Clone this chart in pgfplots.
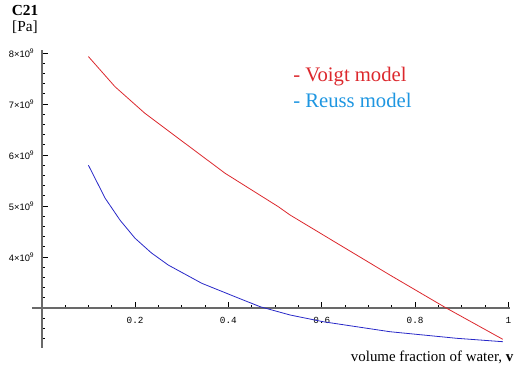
\documentclass[border=0pt]{standalone}
\usepackage{pgfplots}
\pgfplotsset{compat=1.18}
\usepackage{fontspec}
\setmainfont{Liberation Serif}
\newfontfamily\tickfont{Liberation Mono}
\newfontfamily\ytickfont{Liberation Sans}
\definecolor{voigt}{RGB}{220,40,45}
\definecolor{reuss}{RGB}{40,40,200}
\definecolor{reusstxt}{RGB}{30,150,225}
\definecolor{axgray}{RGB}{105,105,105}
% y values are plotted as (value/1e9 - 3), so the x axis crosses at 3x10^9
\begin{document}
\begin{tikzpicture}
\begin{axis}[
  x=350pt, y=38.25pt,
  axis lines=middle,
  axis line style={axgray, line width=1.2pt, -},
  xmin=-0.021, xmax=1.004,
  ymin=-0.784, ymax=5.06,
  xtick={0.2,0.4,0.6,0.8,1},
  xticklabels={0.2,0.4,0.6,0.8,1},
  minor xtick={0.05,0.1,0.15,0.25,0.3,0.35,0.45,0.5,0.55,0.65,0.7,0.75,0.85,0.9,0.95},
  ytick={1,2,3,4,5},
  yticklabels={4×10\textsuperscript{9},5×10\textsuperscript{9},6×10\textsuperscript{9},7×10\textsuperscript{9},8×10\textsuperscript{9}},
  minor ytick={-0.6,-0.4,-0.2,0.2,0.4,0.6,0.8,1.2,1.4,1.6,1.8,2.2,2.4,2.6,2.8,3.2,3.4,3.6,3.8,4.2,4.4,4.6,4.8},
  xtick align=inside, ytick align=inside,
  major tick length=4.5pt,
  minor tick length=2.5pt,
  tick style={black, line width=0.5pt},
  xticklabel style={font=\tickfont\fontsize{7}{8}\selectfont, anchor=north, yshift=-3.5pt},
  yticklabel style={font=\ytickfont\fontsize{7}{8}\selectfont, anchor=east, xshift=-2pt},
  clip=false,
]
\addplot[voigt, line width=0.6pt] coordinates {
(0.100,4.93) (0.157,4.339) (0.221,3.818) (0.307,3.229) (0.393,2.641) (0.507,1.986)
(0.532,1.824) (0.639,1.235) (0.746,0.647) (0.864,0.014) (0.988,-0.614)
};
\addplot[reuss, line width=0.6pt] coordinates {
(0.100,2.80) (0.136,2.151) (0.168,1.72) (0.200,1.367) (0.235,1.08) (0.271,0.843) (0.343,0.484)
(0.414,0.222) (0.468,0.025) (0.532,-0.137) (0.603,-0.269) (0.746,-0.465)
(0.889,-0.594) (0.988,-0.661)
};
\node[anchor=west, inner sep=0pt, text=voigt, font=\fontsize{15.5}{17}\selectfont] at (axis cs:0.5385,4.53) {- Voigt model};
\node[anchor=west, inner sep=0pt, text=reusstxt, font=\fontsize{15.5}{17}\selectfont] at (axis cs:0.5385,4.06) {- Reuss model};
\node[font=\bfseries\fontsize{11.5}{12}\selectfont] at (axis cs:-0.0358,5.84) {C21};
\node[font=\fontsize{11.5}{12}\selectfont] at (axis cs:-0.0358,5.51) {[Pa]};
\node[anchor=west, inner sep=0pt, font=\fontsize{11.2}{12}\selectfont] at (axis cs:0.662,-0.96) {volume fraction of water, \textbf{v}};
\coordinate (BL) at (axis cs:-0.0894,-1.157);
\coordinate (TR) at (axis cs:1.0163,6.039);
\end{axis}
\pgfresetboundingbox
\path[use as bounding box] (BL) rectangle (TR);
\end{tikzpicture}
\end{document}
